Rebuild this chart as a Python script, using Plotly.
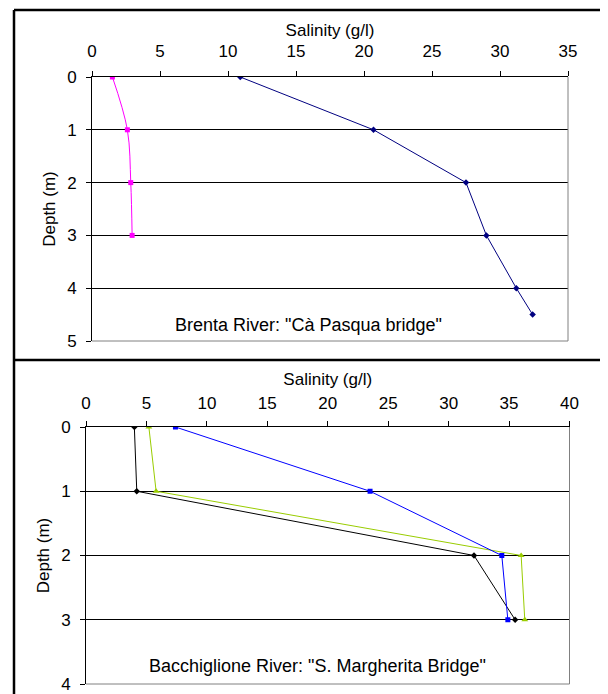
import plotly.graph_objects as go

# ---- data: Brenta River "Cà Pasqua bridge"
brenta_depth_a = [0, 1, 2, 3, 4, 4.5]
brenta_sal_a = [10.9, 20.7, 27.5, 29.0, 31.2, 32.4]
brenta_depth_b = [0, 1, 2, 3]
brenta_sal_b = [1.5, 2.6, 2.85, 2.95]

# ---- data: Bacchiglione River "S. Margherita Bridge"
bacc_depth = [0, 1, 2, 3]
bacc_sal_black = [4.0, 4.2, 32.1, 35.5]
bacc_sal_green = [5.2, 5.8, 36.0, 36.3]
bacc_sal_blue = [7.4, 23.5, 34.4, 34.9]

W, H = 608, 694
OFF = 8  # page body margin in the browser
FONT = "Liberation Sans, Arial, sans-serif"
FS = 17


def px_x(p):
    return (p - OFF) / W


def px_y(p):
    return 1 - (p - OFF) / H


fig = go.Figure()

fig.add_trace(go.Scatter(x=brenta_sal_b, y=brenta_depth_b, mode="lines+markers",
                         line=dict(color="#FF00FF", width=1, shape="spline"),
                         marker=dict(symbol="square", size=5, color="#FF00FF"),
                         xaxis="x", yaxis="y", showlegend=False))
fig.add_trace(go.Scatter(x=brenta_sal_a, y=brenta_depth_a, mode="lines+markers",
                         line=dict(color="#000080", width=1),
                         marker=dict(symbol="diamond", size=5, color="#000080"),
                         xaxis="x", yaxis="y", showlegend=False))

fig.add_trace(go.Scatter(x=bacc_sal_black, y=bacc_depth, mode="lines+markers",
                         line=dict(color="#000000", width=1),
                         marker=dict(symbol="diamond", size=5, color="#000000"),
                         xaxis="x2", yaxis="y2", showlegend=False))
fig.add_trace(go.Scatter(x=bacc_sal_green, y=bacc_depth, mode="lines+markers",
                         line=dict(color="#99CC00", width=1),
                         marker=dict(symbol="triangle-up", size=6, color="#99CC00"),
                         xaxis="x2", yaxis="y2", showlegend=False))
fig.add_trace(go.Scatter(x=bacc_sal_blue, y=bacc_depth, mode="lines+markers",
                         line=dict(color="#0000FF", width=1),
                         marker=dict(symbol="square", size=5, color="#0000FF"),
                         xaxis="x2", yaxis="y2", showlegend=False))


def xax(label_standoff, title_standoff):
    return dict(side="top", dtick=5, ticks="outside", ticklen=5, tickcolor="black",
                showline=True, linecolor="black", linewidth=1, showgrid=False,
                zeroline=False, automargin=False, tickfont=dict(size=FS, color="black"),
                ticklabelstandoff=label_standoff,
                title=dict(text="Salinity (g/l)", font=dict(size=FS, color="black"),
                           standoff=title_standoff))


def yax(title_standoff):
    return dict(dtick=1, ticks="outside", ticklen=5, tickcolor="black",
                showline=True, linecolor="black", linewidth=1, showgrid=True,
                gridcolor="#000000", gridwidth=1, zeroline=False, automargin=False,
                tickfont=dict(size=FS, color="black"), ticklabelstandoff=6,
                title=dict(text="Depth (m)", font=dict(size=FS, color="black"),
                           standoff=title_standoff))


fig.update_layout(
    template="none",
    width=W, height=H,
    margin=dict(l=0, r=0, t=0, b=0, pad=0),
    paper_bgcolor="white", plot_bgcolor="white",
    font=dict(family=FONT, size=FS, color="black"),
    xaxis=dict(domain=[px_x(92), px_x(568)], range=[0, 35], anchor="y", **xax(7, 1)),
    yaxis=dict(domain=[px_y(341), px_y(77)], range=[5, 0], anchor="x", **yax(7)),
    xaxis2=dict(domain=[px_x(86), px_x(569.5)], range=[0, 40], anchor="y2", **xax(5, 4)),
    yaxis2=dict(domain=[px_y(684), px_y(427)], range=[4, 0], anchor="x2", **yax(7)),
)

shapes = []
# plot-area gray borders (right and bottom)
for xr, yr in (("x", "y"), ("x2", "y2")):
    shapes.append(dict(type="line", xref=f"{xr} domain", yref=f"{yr} domain",
                       x0=1, x1=1, y0=0, y1=1, line=dict(color="#808080", width=1)))
    shapes.append(dict(type="line", xref=f"{xr} domain", yref=f"{yr} domain",
                       x0=0, x1=1, y0=0, y1=0, line=dict(color="#808080", width=1)))
# outer frame
shapes.append(dict(type="line", xref="paper", yref="paper", x0=px_x(14), x1=1,
                   y0=px_y(10), y1=px_y(10), line=dict(color="black", width=2.5)))
shapes.append(dict(type="line", xref="paper", yref="paper", x0=px_x(14), x1=px_x(14),
                   y0=0, y1=px_y(10), line=dict(color="black", width=2.5)))
shapes.append(dict(type="line", xref="paper", yref="paper", x0=px_x(14), x1=1,
                   y0=px_y(360), y1=px_y(360), line=dict(color="black", width=2.5)))
fig.update_layout(shapes=shapes)

fig.add_annotation(text='Brenta River: "Cà Pasqua bridge"', xref="paper", yref="paper",
                   x=px_x(308), y=px_y(325), showarrow=False,
                   font=dict(size=18, color="black"), xanchor="center", yanchor="middle")
fig.add_annotation(text='Bacchiglione River: "S. Margherita Bridge"', xref="paper", yref="paper",
                   x=px_x(318), y=px_y(666), showarrow=False,
                   font=dict(size=18, color="black"), xanchor="center", yanchor="middle")

fig.write_html("out.html")
